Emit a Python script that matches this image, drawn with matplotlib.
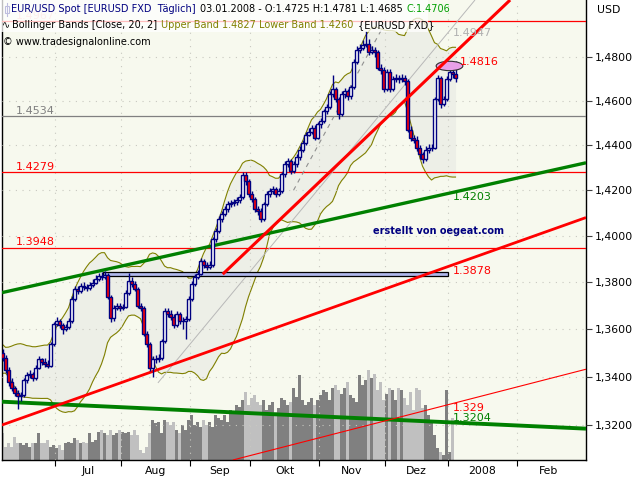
import numpy as np
import pandas as pd
import matplotlib
matplotlib.use("Agg")
import matplotlib.pyplot as plt
from matplotlib.patches import Rectangle, Ellipse
from matplotlib.ticker import FixedLocator, FuncFormatter, NullFormatter, NullLocator

# business-day calendar, first drawn bar is index 3 (6 Jun 2007)
days = pd.bdate_range("2007-06-01", "2008-03-10")
first = 3

open_first = 1.3500
close = [
    # Jun
    1.3480, 1.3429, 1.3378, 1.3353, 1.3333, 1.3320, 1.3324, 1.3386, 1.3407, 1.3412, 1.3395, 1.3437,
    1.3472, 1.3463, 1.3454, 1.3446, 1.3536, 1.3622,
    # Jul
    1.3634, 1.3617, 1.3600, 1.3609, 1.3634, 1.3729, 1.3771, 1.3763, 1.3784, 1.3780, 1.3776, 1.3788,
    1.3797, 1.3814, 1.3827, 1.3823, 1.3831, 1.3737, 1.3647, 1.3690, 1.3698, 1.3690,
    # Aug
    1.3694, 1.3754, 1.3806, 1.3793, 1.3771, 1.3699, 1.3690, 1.3579, 1.3536, 1.3437, 1.3472, 1.3472,
    1.3480, 1.3549, 1.3677, 1.3664, 1.3651, 1.3617, 1.3664, 1.3634, 1.3634, 1.3643, 1.3729,
    # Sep
    1.3793, 1.3823, 1.3836, 1.3891, 1.3874, 1.3866, 1.3874, 1.3986, 1.4020, 1.4073, 1.4095, 1.4117,
    1.4139, 1.4143, 1.4147, 1.4156, 1.4169, 1.4266, 1.4239, 1.4182,
    # Okt
    1.4161, 1.4117, 1.4108, 1.4073, 1.4139, 1.4182, 1.4196, 1.4204, 1.4182, 1.4196, 1.4270, 1.4315,
    1.4328, 1.4284, 1.4315, 1.4346, 1.4381, 1.4412, 1.4448, 1.4462, 1.4480, 1.4435, 1.4494,
    # Nov
    1.4508, 1.4553, 1.4571, 1.4630, 1.4653, 1.4608, 1.4539, 1.4630, 1.4644, 1.4621, 1.4662, 1.4779,
    1.4834, 1.4843, 1.4857, 1.4861, 1.4824, 1.4834, 1.4824, 1.4752, 1.4743, 1.4653,
    # Dez
    1.4734, 1.4653, 1.4698, 1.4707, 1.4698, 1.4707, 1.4689, 1.4471, 1.4435, 1.4426, 1.4390, 1.4359,
    1.4337, 1.4381, 1.4390, 1.4390, 1.4608, 1.4707, 1.4585, 1.4608, 1.4698,
    # Jan
    1.4734, 1.4725, 1.4706,
]
high = [
    1.3515, 1.3490, 1.3440, 1.3395, 1.3362, 1.3345, 1.3338, 1.3395, 1.3420, 1.3428, 1.3420, 1.3450,
    1.3485, 1.3480, 1.3476, 1.3470, 1.3545, 1.3630,
    1.3650, 1.3642, 1.3625, 1.3620, 1.3645, 1.3740, 1.3785, 1.3782, 1.3795, 1.3800, 1.3792, 1.3802,
    1.3812, 1.3830, 1.3840, 1.3845, 1.3848, 1.3840, 1.3745, 1.3702, 1.3712, 1.3710,
    1.3708, 1.3765, 1.3840, 1.3822, 1.3805, 1.3780, 1.3710, 1.3698, 1.3590, 1.3545, 1.3485, 1.3490,
    1.3495, 1.3560, 1.3690, 1.3688, 1.3680, 1.3665, 1.3675, 1.3672, 1.3650, 1.3655, 1.3740,
    1.3805, 1.3835, 1.3850, 1.3905, 1.3900, 1.3885, 1.3890, 1.3995, 1.4035, 1.4085, 1.4110, 1.4130,
    1.4152, 1.4158, 1.4162, 1.4170, 1.4182, 1.4280, 1.4279, 1.4250,
    1.4195, 1.4170, 1.4130, 1.4120, 1.4150, 1.4195, 1.4210, 1.4218, 1.4215, 1.4210, 1.4282, 1.4328,
    1.4345, 1.4340, 1.4330, 1.4360, 1.4395, 1.4425, 1.4460, 1.4478, 1.4492, 1.4490, 1.4505,
    1.4525, 1.4565, 1.4585, 1.4645, 1.4720, 1.4665, 1.4620, 1.4645, 1.4660, 1.4655, 1.4675, 1.4790,
    1.4850, 1.4860, 1.4880, 1.4920, 1.4885, 1.4850, 1.4845, 1.4835, 1.4770, 1.4755,
    1.4748, 1.4745, 1.4712, 1.4722, 1.4720, 1.4725, 1.4720, 1.4700, 1.4485, 1.4448, 1.4440, 1.4400,
    1.4372, 1.4395, 1.4405, 1.4408, 1.4620, 1.4720, 1.4715, 1.4622, 1.4712,
    1.4750, 1.4760, 1.4781,
]
low = [
    1.3465, 1.3415, 1.3360, 1.3340, 1.3318, 1.3265, 1.3300, 1.3315, 1.3375, 1.3395, 1.3380, 1.3388,
    1.3430, 1.3450, 1.3440, 1.3435, 1.3440, 1.3530,
    1.3612, 1.3605, 1.3580, 1.3590, 1.3600, 1.3625, 1.3720, 1.3750, 1.3752, 1.3768, 1.3760, 1.3765,
    1.3778, 1.3790, 1.3805, 1.3810, 1.3812, 1.3728, 1.3630, 1.3635, 1.3680, 1.3675,
    1.3680, 1.3688, 1.3745, 1.3780, 1.3760, 1.3690, 1.3675, 1.3570, 1.3525, 1.3425, 1.3400, 1.3455,
    1.3460, 1.3470, 1.3540, 1.3650, 1.3640, 1.3605, 1.3610, 1.3620, 1.3600, 1.3560, 1.3635,
    1.3720, 1.3785, 1.3815, 1.3830, 1.3860, 1.3852, 1.3855, 1.3865, 1.3975, 1.4012, 1.4060, 1.4085,
    1.4105, 1.4128, 1.4130, 1.4135, 1.4145, 1.4160, 1.4225, 1.4170,
    1.4150, 1.4105, 1.4090, 1.4060, 1.4065, 1.4130, 1.4170, 1.4185, 1.4170, 1.4175, 1.4190, 1.4260,
    1.4305, 1.4272, 1.4275, 1.4305, 1.4335, 1.4370, 1.4400, 1.4440, 1.4450, 1.4425, 1.4428,
    1.4480, 1.4500, 1.4540, 1.4565, 1.4620, 1.4595, 1.4520, 1.4530, 1.4615, 1.4605, 1.4610, 1.4655,
    1.4770, 1.4820, 1.4835, 1.4845, 1.4810, 1.4815, 1.4800, 1.4740, 1.4725, 1.4640,
    1.4645, 1.4640, 1.4645, 1.4685, 1.4680, 1.4685, 1.4675, 1.4460, 1.4420, 1.4410, 1.4375, 1.4340,
    1.4320, 1.4330, 1.4365, 1.4375, 1.4385, 1.4598, 1.4570, 1.4575, 1.4600,
    1.4690, 1.4705, 1.4685,
]
volume = [
    27, 13, 17, 13, 23, 17, 17, 15, 17, 13, 17, 17, 27, 17, 17, 20, 13, 15,
    12, 15, 10, 17, 18, 17, 22, 20, 17, 18, 17, 27, 18, 20, 28, 30, 27, 25, 30, 25, 27, 30,
    28, 27, 28, 25, 30, 25, 10, 7, 13, 27, 40, 37, 38, 27, 40, 38, 35, 38, 30, 27, 35, 30, 40,
    45, 35, 38, 33, 40, 35, 38, 33, 45, 42, 40, 45, 38, 50, 47, 55, 53, 60, 68, 55,
    62, 65, 58, 55, 60, 50, 55, 58, 48, 52, 62, 60, 55, 58, 72, 63, 85, 60, 55, 58, 62, 55, 60,
    65, 70, 68, 60, 72, 75, 70, 66, 72, 78, 65, 62, 58, 85, 75, 80, 90, 82, 86, 70, 78, 60,
    66, 72, 70, 60, 72, 70, 62, 55, 68, 50, 72, 70, 52, 55, 45, 40, 25, 12, 8, 5, 70,
    8, 42, 0,
]
# late May closes, only used to warm up the 20-day bands
pre_close = [1.3545, 1.3520, 1.3510, 1.3500, 1.3495, 1.3480, 1.3460, 1.3470, 1.3440, 1.3450,
             1.3440, 1.3455, 1.3440, 1.3430, 1.3445, 1.3460, 1.3480, 1.3490, 1.3500]

h_levels = [1.4967, 1.4534, 1.4279, 1.3948]
h_colors = ["red", "#808080", "red", "red"]

# trend lines: (bar index, price) pairs
green_up = [(2.83, 1.3755), (197.5, 1.4322)]
green_low = [(2.83, 1.3296), (197.5, 1.3185)]
red_mid = [(2.83, 1.3200), (197.5, 1.4080)]
red_steep = [(76.4, 1.3834), (172.2, 1.5066)]
red_thin = [(79.8, 1.3057), (197.5, 1.3431)]
gray_thin = [(54.8, 1.3374), (160.5, 1.5066)]
gray_dash = [(100.0, 1.4200), (131.0, 1.4970)]

box = (36.5, 151.4, 1.3826, 1.3843)

month_names = ["Jul", "Aug", "Sep", "Okt", "Nov", "Dez", "2008", "Feb"]

BG = "#F7F9EE"
NAVY = "#000080"

n = len(close)
x = np.arange(first, first + n)
opens = np.array([open_first] + close[:-1])
close = np.array(close)
high = np.array(high)
low = np.array(low)

s = pd.Series(pre_close + list(close))
mid = s.rolling(20).mean()
sd = s.rolling(20).std(ddof=0)
upper = (mid + 2 * sd).values[-n:]
lower = (mid - 2 * sd).values[-n:]

fig = plt.figure(figsize=(6.4, 4.8), dpi=100, facecolor="white")
rect = [2 / 640, 20 / 480, 584 / 640, 460 / 480]
ax = fig.add_axes(rect)
axv = ax.twinx()
ax.set_zorder(2)
ax.patch.set_visible(False)
axv.set_zorder(1)
axv.patch.set_visible(True)
axv.patch.set_facecolor(BG)

# volume
up = close >= opens
vcol = np.where(up, "#808080", "#C0C0C0")
axv.bar(x, volume, width=0.7, color=vcol, linewidth=0)
axv.set_ylim(0, 460)
axv.yaxis.set_visible(False)
for sp in axv.spines.values():
    sp.set_visible(False)

ax.set_yscale("log")
ax.set_xlim(2.83, 197.5)
ax.set_ylim(1.3057, 1.5066)

# bands
ax.fill_between(x, lower, upper, color="#ECEEE6", alpha=0.85, lw=0, zorder=1)
ax.plot(x, upper, color="#808000", lw=0.8, zorder=2)
ax.plot(x, lower, color="#808000", lw=0.8, zorder=2)

# horizontal levels
for lv, c in zip(h_levels, h_colors):
    ax.axhline(lv, color=c, lw=0.9, zorder=3)

# trend lines
def seg(p, **kw):
    ax.plot([p[0][0], p[1][0]], [p[0][1], p[1][1]], solid_capstyle="butt", **kw)

seg(gray_thin, color="#B8B8B8", lw=0.7, zorder=3)
seg(gray_dash, color="#909090", lw=0.8, ls=(0, (4, 4)), zorder=3)
seg(green_up, color="#008000", lw=2.4, zorder=6)
seg(green_low, color="#008000", lw=2.8, zorder=6)
seg(red_mid, color="red", lw=2.0, zorder=6)
seg(red_thin, color="red", lw=0.8, zorder=6)

ax.add_patch(Rectangle((box[0], box[2]), box[1] - box[0], box[3] - box[2],
                       facecolor="#B0B8EC", edgecolor="black", lw=0.9, zorder=4))

# candles
ax.vlines(x, low, high, color=NAVY, lw=1.0, zorder=7)
body_col = np.where(up, "white", "red")
ax.bar(x, close - opens, bottom=opens, width=0.85, color=body_col,
       edgecolor=NAVY, linewidth=1.0, zorder=8)

ax.add_patch(Ellipse((152.0, 1.4760), 8.9, 0.0043, facecolor="#E8A0E8",
                     edgecolor="#303030", lw=0.8, zorder=7))
seg(red_steep, color="red", lw=2.2, zorder=9)

# axes styling
month_start = [days.get_indexer([d])[0] - 0.5 for d in
               pd.date_range("2007-07-01", "2008-02-01", freq="BMS")]
month_mid = [(a + b) / 2 for a, b in zip(month_start, month_start[1:] + [month_start[-1] + 21])]
ax.xaxis.set_major_locator(FixedLocator(month_start))
ax.xaxis.set_major_formatter(NullFormatter())
ax.xaxis.set_minor_locator(FixedLocator(month_mid))
ax.xaxis.set_minor_formatter(FuncFormatter(lambda v, p: month_names[p] if p < len(month_names) else ""))
ax.tick_params(axis="x", which="major", length=4, width=0.8, color="black", direction="out")
ax.tick_params(axis="x", which="minor", length=0, labelsize=7.8, pad=4)

yt = [1.32, 1.34, 1.36, 1.38, 1.40, 1.42, 1.44, 1.46, 1.48]
ax.yaxis.tick_right()
ax.yaxis.set_major_locator(FixedLocator(yt))
ax.yaxis.set_minor_locator(NullLocator())
ax.yaxis.set_major_formatter(FuncFormatter(lambda v, p: f"{v:.4f}".replace(".", ",")))
ax.tick_params(axis="y", which="major", length=4, width=0.8, color="#404040",
               direction="out", labelsize=7.8, pad=2)

ax.grid(True, which="major", color="#C8C8C0", lw=0.8, ls=(0, (1, 5)))
ax.set_axisbelow(False)
for g in ax.get_xgridlines() + ax.get_ygridlines():
    g.set_zorder(0.5)

for side in ["left", "right", "bottom"]:
    ax.spines[side].set_color("black")
    ax.spines[side].set_linewidth(1.0)
ax.spines["top"].set_visible(False)

def px(xp, yp):
    return xp / 640, 1 - yp / 480

FS = 7.0
LFS = 8.0
# line labels
fig.text(*px(16, 116), "1.4534", color="#808080", fontsize=LFS, va="bottom", zorder=10)
fig.text(*px(16, 172), "1.4279", color="red", fontsize=LFS, va="bottom", zorder=10)
fig.text(*px(16, 247), "1.3948", color="red", fontsize=LFS, va="bottom", zorder=10)
fig.text(*px(453, 33), "1.4947", color="#B0B0B0", fontsize=LFS, va="center", zorder=10)
fig.text(*px(460, 62), "1.4816", color="red", fontsize=LFS, va="center", zorder=10)
fig.text(*px(453, 197), "1.4203", color="#008000", fontsize=LFS, va="center", zorder=10)
fig.text(*px(453, 271), "1.3878", color="red", fontsize=LFS, va="center", zorder=10)
fig.text(*px(453, 408), "1.329", color="red", fontsize=LFS, va="center", zorder=10)
fig.text(*px(453, 418), "1.3204", color="#008000", fontsize=LFS, va="center", zorder=10)
fig.text(*px(373, 231), "erstellt von oegeat.com", color=NAVY, fontsize=7, fontweight="bold",
         va="center", zorder=10)
fig.text(*px(597, 10), "USD", color="black", fontsize=7.8, va="center")

# legend block (label of the top level sits faintly behind it)
fig.text(*px(16, 21), "1.4967", color="red", fontsize=LFS, va="bottom", zorder=8, alpha=0.25)
fig.patches.append(Rectangle(px(0, 32), 428 / 640, 32 / 480, transform=fig.transFigure,
                             facecolor="white", alpha=0.75, lw=0, zorder=9))

renderer = fig.canvas.get_renderer()

def chain(x0, yp, parts):
    xc = x0
    for txt, col in parts:
        t = fig.text(*px(xc, yp), txt, color=col, fontsize=FS, va="center", zorder=11)
        xc += t.get_window_extent(renderer).width + 4

chain(11, 9, [("EUR/USD Spot [EURUSD FXD  Täglich]", NAVY),
              ("03.01.2008 - O:1.4725 H:1.4781 L:1.4685", "black"),
              ("C:1.4706", "#00A000")])
chain(12, 25, [("Bollinger Bands [Close, 20, 2]", "black"),
               ("Upper Band 1.4827 Lower Band 1.4260", "#808000"),
               ("{EURUSD FXD}", "black")])
fig.text(*px(2, 25), "\u223f", color="black", fontsize=FS, va="center", zorder=11)
fig.text(*px(3, 42), "\u00a9 www.tradesignalonline.com", color="black", fontsize=FS, va="center", zorder=11)
# candle icon
fig.lines.append(plt.Line2D([6.5 / 640, 6.5 / 640], [1 - 3 / 480, 1 - 16 / 480],
                            transform=fig.transFigure, color=NAVY, lw=0.8))
fig.patches.append(Rectangle(px(4.5, 13), 4 / 640, 7 / 480, transform=fig.transFigure,
                             facecolor="white", edgecolor=NAVY, lw=0.8))

fig.savefig("out.png", dpi=100, facecolor="white")
